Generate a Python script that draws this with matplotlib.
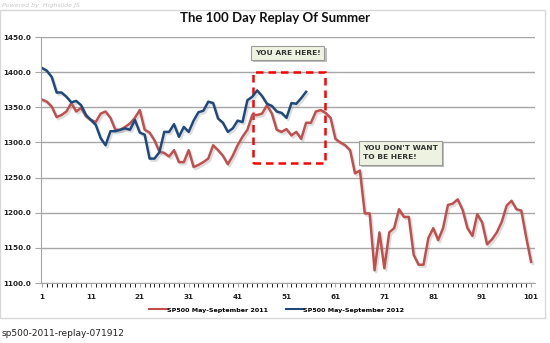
import matplotlib
matplotlib.use("Agg")
from matplotlib import pyplot as plt
from matplotlib.patches import Rectangle
import matplotlib.patheffects as pe

# SP500 2011 (dias 1..101)
sp2011 = [1361, 1358, 1351, 1336, 1339, 1344, 1356, 1344, 1349, 1337,
          1332, 1329, 1341, 1344, 1335, 1318, 1318, 1322, 1327, 1335,
          1346, 1318, 1314, 1303, 1287, 1285, 1280, 1289, 1272, 1272,
          1289, 1265, 1268, 1272, 1277, 1296, 1289, 1281, 1269, 1281,
          1296, 1308, 1318, 1339, 1339, 1341, 1353, 1341, 1318, 1315,
          1319, 1310, 1315, 1305, 1328, 1328, 1344, 1346, 1342, 1335,
          1305, 1300, 1296, 1289, 1256, 1260, 1199, 1199, 1118, 1172,
          1121, 1172, 1178, 1205, 1194, 1194, 1140, 1126, 1126, 1164,
          1178, 1161, 1178, 1211, 1213, 1219, 1204, 1178, 1167, 1198,
          1186, 1155, 1162, 1172, 1187, 1210, 1217, 1205, 1203, 1165,
          1130]

# SP500 2012 (dias 1..55)
sp2012 = [1406, 1402, 1393, 1371, 1371, 1365, 1357, 1359, 1353, 1339,
          1332, 1325, 1306, 1296, 1316, 1316, 1318, 1320, 1318, 1332,
          1314, 1311, 1277, 1277, 1286, 1315, 1315, 1326, 1308, 1322,
          1315, 1331, 1343, 1345, 1358, 1356, 1334, 1328, 1315, 1320,
          1331, 1329, 1360, 1365, 1374, 1366, 1355, 1352, 1344, 1342,
          1335, 1356, 1355, 1363, 1372]

dias_2011 = list(range(1, len(sp2011) + 1))
dias_2012 = list(range(1, len(sp2012) + 1))
etiquetas_x = list(range(1, 102, 10))
etiquetas_y = list(range(1100, 1451, 50))

W, H = 550, 343
fig = plt.figure(figsize=(5.5, 3.43), dpi=100)
fig.patch.set_facecolor("white")

# marco exterior
fig.add_artist(Rectangle((0, 1 - 318 / H), 545 / W, (318 - 10) / H,
                         transform=fig.transFigure, fill=False,
                         ec="#d8d8d8", lw=1))

ax = fig.add_axes([41 / W, 1 - 283 / H, (535 - 41) / W, (283 - 37) / H])

sombra = [pe.SimpleLineShadow(offset=(1.2, -1.5), shadow_color="#909090", alpha=0.3),
          pe.Normal()]
ax.plot(dias_2011, sp2011, color="#c0504d", lw=1.8, label="SP500 May-September 2011",
        path_effects=sombra, solid_joinstyle="round")
ax.plot(dias_2012, sp2012, color="#1f497d", lw=1.8, label="SP500 May-September 2012",
        path_effects=sombra, solid_joinstyle="round")

ax.set_xlim(0.8, 101.8)
ax.set_ylim(1100, 1450)
ax.set_xticks(etiquetas_x)
ax.set_xticks(range(1, 102), minor=True)
ax.set_yticks(etiquetas_y)
ax.set_yticklabels([f"{v:.1f}" for v in etiquetas_y])
ax.grid(axis="y", color="#a6a6a6", lw=1)
ax.set_axisbelow(True)

for s in ["top", "right"]:
    ax.spines[s].set_visible(False)
for s in ["left", "bottom"]:
    ax.spines[s].set_color("#a6a6a6")
ax.tick_params(axis="both", colors="#a6a6a6", labelcolor="#222222", labelsize=5.2)
ax.tick_params(axis="y", length=4, pad=3)
ax.tick_params(axis="x", which="major", length=3, pad=5)
ax.tick_params(axis="x", which="minor", length=3)
for lbl in ax.get_xticklabels() + ax.get_yticklabels():
    lbl.set_fontweight("bold")

# zona "estas aqui"
ax.add_patch(Rectangle((44.2, 1271), 14.6, 129, fill=False, ec="#ff0000",
                       ls=(0, (3, 2)), lw=1.8))

caja = dict(boxstyle="square,pad=0.55", fc="#eef3e1", ec="#9a9a9a", lw=0.8)
t1 = ax.text(51.2, 1427, "YOU ARE HERE!", ha="center", va="center",
             fontsize=5.4, fontweight="bold", color="#333333", bbox=caja)
t2 = ax.text(66.6, 1285, "YOU DON'T WANT\nTO BE HERE!", ha="left", va="center",
             fontsize=5.4, fontweight="bold", color="#333333", bbox=caja,
             linespacing=1.6)
for t in (t1, t2):
    t.get_bbox_patch().set_path_effects([pe.SimplePatchShadow(offset=(1.5, -1.5), alpha=0.35),
                                         pe.Normal()])

leg = ax.legend(loc="upper center", bbox_to_anchor=(0.477, -0.075), ncol=2,
                frameon=False, handlelength=2.7, handletextpad=0.0,
                columnspacing=2.8, prop={"size": 4.6, "weight": "bold"})
for h in leg.get_lines():
    h.set_path_effects([])
    h.set_linewidth(1.5)

fig.text(0.5, 1 - 18 / H, "The 100 Day Replay Of Summer", ha="center", va="center",
         fontsize=9.5, fontweight="bold", color="#111111", family="Lato")
fig.text(2 / W, 1 - 5 / H, "Powered by  Highslide JS", ha="left", va="center",
         fontsize=4.5, style="italic", color="#c8c8c8")
fig.text(2 / W, 1 - 333 / H, "sp500-2011-replay-071912", ha="left", va="center",
         fontsize=6.5, color="#222222")

fig.savefig("out.png", dpi=100)
